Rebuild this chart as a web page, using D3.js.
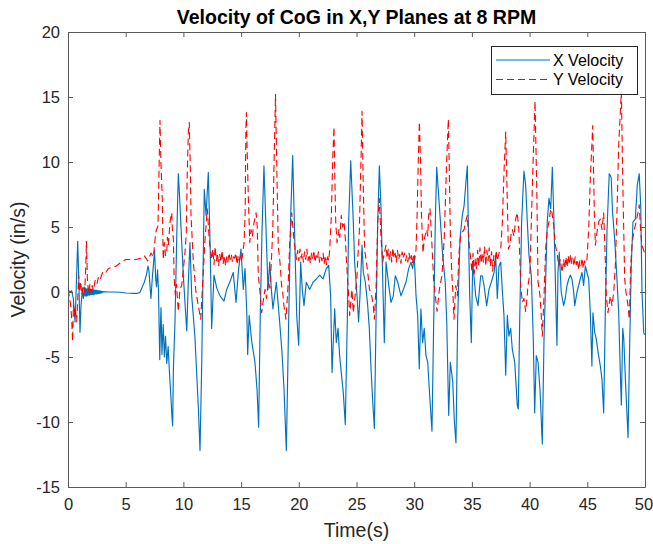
<!DOCTYPE html>
<html><head><meta charset="utf-8">
<script src="https://cdn.jsdelivr.net/npm/d3@7/dist/d3.min.js"></script>
<style>body{margin:0;background:#fff}svg{display:block}</style>
</head><body>
<svg id="chart" width="653" height="544"></svg>
<script>
const chartTitle = "Velocity of CoG in X,Y Planes at 8 RPM";
const xLabel = "Time(s)";
const yLabel = "Velocity (in/s)";
const seriesNames = ["X Velocity", "Y Velocity"];
const xTicks = [0,5,10,15,20,25,30,35,40,45,50];
const yTicks = [-15,-10,-5,0,5,10,15,20];

// [time (s), velocity (in/s)]
const xVelocity = [
[0.00,0.2],[0.17,0.0],[0.32,0.1],[0.46,-0.5],[0.61,-2.3],[0.69,-0.3],[0.84,3.9],[0.95,0.5],[1.04,-3.1],[1.13,-1.0],[1.24,0.1],[1.33,-0.5],[1.41,0.4],
[1.46,-0.3],[1.51,0.3],[1.56,-0.3],[1.61,0.25],[1.66,-0.3],[1.71,0.25],[1.76,-0.25],[1.81,0.2],[1.86,-0.25],[1.91,0.2],[1.96,-0.2],[2.01,0.2],[2.06,-0.2],[2.11,0.2],[2.16,-0.2],[2.21,0.15],[2.26,-0.2],[2.31,0.15],[2.36,-0.15],[2.41,0.15],[2.46,-0.15],[2.51,0.12],[2.56,-0.15],[2.61,0.1],[2.66,-0.12],[2.71,0.1],[2.76,-0.1],[2.81,0.08],[2.86,-0.08],[2.91,0.05],[2.96,-0.05],[3.01,0.03],
[3.5,0.0],[4.0,0.0],[4.5,-0.02],[5.0,-0.08],[5.5,-0.1],[6.0,-0.1],[6.22,-0.05],[6.4,0.3],[6.59,0.7],[6.79,1.3],[6.93,2.0],[7.02,1.6],[7.12,0.3],[7.19,-0.5],[7.3,1.0],[7.41,2.2],[7.5,3.2],[7.6,1.0],[7.67,0.4],[7.76,1.7],[7.84,0.2],
[7.95,-5.2],[8.0,-3.0],[8.06,-1.2],[8.14,-4.8],[8.25,-2.5],[8.35,-5.0],[8.45,-3.4],[8.56,-5.5],[8.68,-4.2],[8.78,-6.0],[8.9,-7.8],[9.0,-9.5],[9.07,-10.3],[9.13,-6.0],[9.27,-2.3],[9.43,4.5],[9.56,9.1],[9.66,7.5],[9.77,5.4],[9.99,1.3],[10.29,-3.0],[10.43,0.8],[10.57,3.8],[10.72,-0.3],[10.88,-2.1],[11.0,-3.5],[11.15,-6.2],[11.3,-9.0],[11.44,-12.2],[11.59,-5.4],[11.7,1.5],[11.81,7.9],[11.96,5.9],[12.16,9.2],[12.31,3.8],[12.45,-2.8],[12.65,1.3],[12.89,0.3],[13.17,-0.3],[13.52,-0.7],[13.75,0.2],[14.04,0.8],[14.32,1.5],[14.56,-0.8],[14.79,1.8],[14.99,3.3],[15.19,0.2],[15.34,1.8],
[15.5,-1.8],[15.57,-4.8],[15.7,-1.8],[15.92,-3.8],[16.2,-5.4],[16.38,-7.5],[16.52,-10.4],[16.65,-2.3],[16.81,4.6],[16.98,9.7],[17.18,4.3],[17.33,0.2],[17.48,2.3],[17.62,0.2],[17.76,-1.3],[18.05,0.75],[18.2,-0.8],[18.34,-2.3],[18.54,-4.6],[18.72,-7.5],[18.92,-12.2],[19.12,-2.3],[19.3,5.9],[19.47,10.5],[19.58,6.6],[19.7,2.3],[19.82,-1.8],[19.99,-4.1],[20.16,2.3],[20.3,0.2],[20.45,-1.05],[20.65,0.75],[20.94,0.2],[21.23,0.75],[21.52,1.0],[21.81,1.3],[22.1,1.0],[22.38,1.8],[22.59,2.05],[22.76,-0.3],
[22.88,-6.2],[23.11,-1.3],[23.25,-3.9],[23.4,-2.8],[23.54,-4.9],[23.68,-6.2],[23.86,-7.8],[24.03,-10.2],[24.2,-2.3],[24.32,5.4],[24.5,10.1],[24.7,5.9],[24.84,2.3],[25.06,-0.5],[25.18,-2.3],[25.3,-0.3],[25.48,3.6],[25.59,1.5],[25.77,0.75],[25.97,-1.05],[26.11,-2.8],[26.26,-5.9],[26.41,-8.5],[26.55,-10.5],[26.69,-2.3],[26.84,5.4],[26.98,9.7],[27.12,6.6],[27.27,1.0],[27.41,-3.9],[27.56,2.3],[27.7,1.25],[27.84,0.2],[27.99,-0.8],[28.19,-0.3],[28.36,1.25],[28.57,0.75],[28.86,-0.3],[29.06,0.2],[29.29,0.75],[29.52,1.8],[29.72,2.3],[29.87,1.8],[30.01,2.8],[30.16,-0.3],
[30.3,-1.8],[30.44,-5.9],[30.58,-1.3],[30.73,-3.9],[30.87,-2.8],[31.02,-4.9],[31.17,-5.4],[31.31,-7.5],[31.54,-10.7],[31.69,-2.3],[31.83,5.4],[31.95,9.6],[32.12,7.4],[32.32,4.8],[32.47,2.8],[32.69,0.75],[32.82,-2.3],[32.99,-9.5],[33.13,-5.4],[33.34,-6.9],[33.48,-10.0],[33.62,-11.6],[33.76,-2.3],[33.97,4.1],[34.17,5.9],[34.32,6.6],[34.46,8.2],[34.6,9.7],[34.72,3.8],[34.81,-0.3],[34.95,-3.9],[35.07,2.3],[35.18,1.25],[35.33,-0.3],[35.53,-1.05],[35.76,1.25],[35.9,1.25],[36.05,0.5],[36.28,-1.05],[36.48,0.2],[36.68,0.75],[36.92,1.5],[37.06,2.8],[37.2,-0.5],[37.35,2.0],[37.5,2.3],[37.63,0.2],[37.78,-1.8],
[37.93,-6.4],[38.07,-1.8],[38.21,-3.4],[38.36,-2.8],[38.5,-4.4],[38.71,-5.4],[38.93,-8.7],[39.02,-9.0],[39.14,-2.3],[39.31,5.4],[39.51,9.3],[39.66,8.2],[39.8,5.4],[39.95,2.8],[40.15,1.25],[40.32,-3.6],[40.44,-9.3],[40.58,-4.9],[40.73,-5.4],[40.9,-7.5],[41.1,-11.7],[41.25,-3.6],[41.53,5.4],[41.68,7.2],[41.83,6.4],[41.97,9.6],[42.09,6.1],[42.23,1.0],[42.37,-4.1],[42.46,1.5],[42.57,3.05],[42.74,0.0],[42.95,-1.05],[43.09,-0.5],[43.24,0.5],[43.39,1.0],[43.53,1.3],[43.67,1.0],[43.82,0.0],[43.91,-1.05],[44.11,0.0],[44.39,1.0],[44.54,1.5],[44.68,0.5],[44.83,2.0],[44.97,1.5],[45.12,1.0],[45.26,-1.6],
[45.4,-5.7],[45.49,-1.6],[45.64,-3.1],[45.78,-3.6],[45.93,-4.6],[46.13,-5.7],[46.27,-6.7],[46.42,-9.3],[46.56,-1.6],[46.71,4.8],[46.9,9.1],[47.07,8.8],[47.19,6.1],[47.37,4.1],[47.57,1.0],[47.72,-1.6],[47.86,-6.2],[47.95,-8.7],[48.07,-2.8],[48.16,-3.6],[48.3,-6.7],[48.53,-11.2],[48.67,-4.1],[48.81,2.0],[48.96,5.4],[49.16,5.6],[49.33,8.2],[49.5,9.1],[49.63,6.6],[49.74,0.0],[49.89,-3.1],[49.96,-3.3]
];

const yVelocity = [
[0.00,0.2],[0.1,-0.3],[0.2,-0.8],[0.3,-1.8],[0.4,-3.8],[0.47,-1.0],[0.55,-1.8],[0.62,-1.2],[0.75,-2.3],[0.85,-0.5],[0.92,1.3],[1.0,0.0],[1.1,0.8],[1.2,-0.2],[1.3,0.5],[1.45,0.0],[1.52,1.5],[1.6,3.9],[1.68,1.0],[1.78,-0.1],[1.9,0.6],[2.0,-0.1],[2.1,0.5],[2.2,0.1],[2.35,0.9],[2.5,0.6],[2.65,1.2],[2.8,1.0],[3.0,1.5],[3.2,1.4],[3.5,1.8],[3.8,1.9],[4.2,2.0],[4.6,2.3],[5.0,2.5],[5.4,2.5],[5.9,2.5],[6.3,2.6],[6.6,2.8],[6.9,2.4],[7.2,3.0],[7.4,2.7],[7.6,4.6],[7.8,5.1],[7.9,10.0],[7.97,13.2],[8.05,10.0],[8.17,7.2],[8.25,2.5],[8.35,3.8],[8.45,2.8],[8.55,3.0],[8.62,4.2],[8.7,3.6],[8.84,5.4],[8.99,6.1],[9.05,4.7],[9.13,4.1],[9.2,1.0],[9.3,-0.2],[9.4,0.6],[9.56,-1.5],[9.7,0.2],[9.85,0.5],[10.0,1.8],[10.14,3.05],[10.25,4.5],[10.33,9.0],[10.43,12.3],[10.51,13.05],[10.6,9.5],[10.66,5.9],[10.86,2.3],[11.09,0.0],[11.29,-1.05],[11.5,-2.1],[11.72,1.5],[11.87,4.0],[12.07,6.4],[12.24,4.0],[12.45,2.5],
[12.55,3.3],[12.65,2.1],[12.75,3.5],[12.85,2.4],[12.95,3.0],[13.05,2.0],[13.15,2.9],[13.25,2.3],[13.35,3.2],[13.45,2.2],[13.55,2.8],[13.65,2.0],[13.75,2.7],[13.85,2.3],[13.95,3.0],[14.05,2.5],[14.15,2.9],[14.25,2.3],[14.35,2.7],[14.45,2.6],[14.55,3.0],[14.65,2.1],[14.75,2.8],[14.85,2.4],[14.95,2.8],[15.05,2.5],[15.12,2.8],[15.26,3.8],[15.35,6.0],[15.41,12.3],[15.46,13.8],[15.52,11.0],[15.63,7.2],[15.75,3.8],[15.86,4.8],[15.98,4.3],[16.07,5.1],[16.3,6.1],[16.4,5.0],[16.49,1.3],[16.64,0.0],[16.78,-1.6],[16.9,-0.8],[17.07,0.2],[17.2,-0.5],[17.35,0.8],[17.5,0.3],[17.63,2.5],[17.75,5.0],[17.85,9.7],[17.98,15.2],[18.08,10.3],[18.22,3.5],[18.35,2.5],[18.51,0.5],[18.6,0.0],[18.71,-1.05],[18.89,-2.1],[19.0,-0.5],[19.09,0.8],[19.2,3.5],[19.38,6.1],[19.58,4.0],[19.8,2.5],
[19.9,3.2],[20.0,2.4],[20.1,3.3],[20.2,2.6],[20.3,3.0],[20.4,2.3],[20.5,3.1],[20.6,2.5],[20.7,3.3],[20.8,2.4],[20.9,2.9],[21.0,2.2],[21.1,3.0],[21.2,2.6],[21.3,3.2],[21.4,2.3],[21.5,2.8],[21.6,2.5],[21.7,3.1],[21.8,2.3],[21.9,2.7],[22.0,2.4],[22.1,3.0],[22.2,2.2],[22.3,2.8],[22.4,2.1],[22.5,2.7],[22.6,2.4],[22.68,3.3],[22.82,5.9],[22.95,10.5],[23.05,12.7],[23.12,9.0],[23.2,5.4],[23.31,3.8],[23.48,4.8],[23.55,4.2],[23.68,5.9],[23.8,5.0],[23.92,5.4],[24.03,4.1],[24.2,1.3],[24.3,0.0],[24.41,-1.8],[24.52,-0.6],[24.61,0.2],[24.72,-1.6],[24.84,-0.6],[25.02,0.9],[25.14,3.0],[25.24,4.5],[25.39,10.2],[25.48,13.9],[25.57,9.0],[25.7,3.3],[25.86,2.3],[26.0,1.3],[26.12,0.2],[26.3,-0.2],[26.45,-1.0],[26.55,-2.1],[26.7,0.5],[26.84,5.4],[26.98,7.2],[27.12,4.2],[27.27,2.3],[27.41,3.0],[27.56,3.6],
[27.65,2.6],[27.75,3.3],[27.85,2.4],[27.95,3.1],[28.05,2.3],[28.15,3.4],[28.25,2.6],[28.35,3.0],[28.45,2.3],[28.55,3.2],[28.65,2.5],[28.75,2.9],[28.85,2.2],[28.95,3.1],[29.05,2.6],[29.15,3.0],[29.25,2.4],[29.35,2.8],[29.45,2.3],[29.55,3.0],[29.65,2.4],[29.75,2.8],[29.85,2.2],[29.95,2.9],[30.05,2.5],[30.16,3.3],[30.25,5.9],[30.35,10.0],[30.45,13.1],[30.55,10.0],[30.63,6.0],[30.76,3.0],[30.88,4.1],[31.08,4.8],[31.18,4.3],[31.25,5.9],[31.37,6.4],[31.54,3.6],[31.69,0.8],[31.83,-0.3],[31.98,-1.5],[32.1,-0.5],[32.18,0.2],[32.3,0.8],[32.41,1.3],[32.61,4.3],[32.81,10.0],[32.96,13.3],[33.05,9.0],[33.13,4.6],[33.25,1.5],[33.34,0.2],[33.45,-2.1],[33.6,0.5],[33.74,-0.3],[33.88,3.0],[34.03,4.3],[34.17,4.6],[34.32,4.8],[34.46,5.4],[34.6,5.9],[34.75,3.8],[34.9,2.5],
[35.0,1.6],[35.1,3.0],[35.2,1.4],[35.3,2.6],[35.4,1.8],[35.5,3.2],[35.6,2.0],[35.7,3.4],[35.8,2.2],[35.9,3.0],[36.0,2.3],[36.1,3.5],[36.2,2.0],[36.3,3.2],[36.4,2.4],[36.5,3.4],[36.6,2.0],[36.7,3.1],[36.8,1.6],[36.9,2.8],[37.0,2.0],[37.1,3.2],[37.2,2.4],[37.35,3.0],[37.5,3.3],[37.64,5.4],[37.78,9.2],[37.93,12.3],[38.07,7.0],[38.16,3.3],[38.3,3.6],[38.4,4.5],[38.5,4.8],[38.65,4.3],[38.79,5.6],[38.93,6.1],[39.08,4.6],[39.23,0.5],[39.37,-0.8],[39.51,-0.5],[39.66,-1.5],[39.76,-0.6],[39.86,0.5],[40.03,1.5],[40.15,5.4],[40.32,10.5],[40.47,14.7],[40.62,8.0],[40.73,0.8],[40.9,-0.3],[41.01,-1.8],[41.1,-3.4],[41.25,-0.3],[41.39,3.3],[41.53,4.8],[41.68,5.4],[41.83,6.4],[41.94,6.1],[42.09,5.1],[42.23,3.6],[42.37,3.05],[42.52,2.0],[42.66,2.5],[42.81,1.5],[42.95,2.5],
[43.05,1.8],[43.15,2.7],[43.25,1.9],[43.35,2.8],[43.45,2.1],[43.55,2.9],[43.65,2.2],[43.75,2.6],[43.85,2.0],[43.95,2.7],[44.05,2.1],[44.15,2.5],[44.25,1.7],[44.35,2.4],[44.45,2.0],[44.55,2.6],[44.65,1.8],[44.75,2.4],[44.85,2.2],[44.97,2.5],[45.12,4.8],[45.26,8.7],[45.47,12.8],[45.61,6.1],[45.7,3.6],[45.84,4.6],[45.99,5.4],[46.13,5.6],[46.27,4.8],[46.42,6.1],[46.56,2.5],[46.65,-0.3],[46.79,-1.6],[46.99,-0.3],[47.14,-1.05],[47.29,0.0],[47.43,2.0],[47.57,6.1],[47.72,11.3],[47.95,15.4],[48.07,8.7],[48.24,1.0],[48.35,0.0],[48.53,-1.05],[48.64,-2.1],[48.76,2.0],[48.87,3.6],[49.02,4.6],[49.16,5.1],[49.39,6.1],[49.5,6.7],[49.63,4.6],[49.74,3.6],[49.96,3.0]
];

const colors = ["#0072BD", "#FF0000"];
const font = "'Liberation Sans', Arial, Helvetica, sans-serif";
const ink = "#262626";

const W = 653, H = 544;
const m = {left: 68, right: 8, top: 32, bottom: 57};
const pw = W - m.left - m.right, ph = H - m.top - m.bottom;

const svg = d3.select("#chart");
svg.append("rect").attr("width", W).attr("height", H).attr("fill", "#fff");

const x = d3.scaleLinear().domain([0, 50]).range([m.left, m.left + pw]);
const y = d3.scaleLinear().domain([-15, 20]).range([m.top + ph, m.top]);

svg.append("defs").append("clipPath").attr("id", "clip")
  .append("rect").attr("x", m.left).attr("y", m.top).attr("width", pw).attr("height", ph);

const line = d3.line().x(d => x(d[0])).y(d => y(d[1]));
const g = svg.append("g").attr("clip-path", "url(#clip)");
g.append("path").datum(xVelocity).attr("d", line)
  .attr("fill", "none").attr("stroke", colors[0]).attr("stroke-width", 1.15).attr("stroke-linejoin", "round");
g.append("path").datum(yVelocity).attr("d", line)
  .attr("fill", "none").attr("stroke", colors[1]).attr("stroke-width", 1.1).attr("stroke-dasharray", "7,4").attr("stroke-linejoin", "round");

const fmt = d => String(d);
function styleAxis(sel) {
  sel.selectAll(".domain").attr("stroke", "#5a5a5a").attr("stroke-width", 1);
  sel.selectAll(".tick line").attr("stroke", "#5a5a5a");
  sel.selectAll(".tick text").attr("fill", ink).style("font-family", font).style("font-size", "16.5px");
}
const xAxisG = svg.append("g").attr("transform", `translate(0,${m.top + ph})`)
  .call(d3.axisBottom(x).tickValues(xTicks).tickSizeInner(-5).tickSizeOuter(0).tickPadding(11).tickFormat(fmt))
  .call(styleAxis);
// keep the last label inside the canvas edge
xAxisG.selectAll(".tick text").filter(d => d === xTicks[xTicks.length - 1]).attr("dx", "-1.5");
svg.append("g").attr("transform", `translate(0,${m.top})`)
  .call(d3.axisTop(x).tickValues(xTicks).tickSizeInner(-5).tickSizeOuter(0).tickFormat(""))
  .call(styleAxis);
svg.append("g").attr("transform", `translate(${m.left},0)`)
  .call(d3.axisLeft(y).tickValues(yTicks).tickSizeInner(-5).tickSizeOuter(0).tickPadding(8).tickFormat(fmt))
  .call(styleAxis);
svg.append("g").attr("transform", `translate(${m.left + pw},0)`)
  .call(d3.axisRight(y).tickValues(yTicks).tickSizeInner(-5).tickSizeOuter(0).tickFormat(""))
  .call(styleAxis);

svg.append("text").attr("x", m.left + pw / 2).attr("y", 24).attr("text-anchor", "middle")
  .style("font-family", font).style("font-size", "19.5px").style("font-weight", "bold").attr("fill", "#000")
  .text(chartTitle);
svg.append("text").attr("x", m.left + pw / 2).attr("y", 537).attr("text-anchor", "middle")
  .style("font-family", font).style("font-size", "19.5px").attr("fill", ink).text(xLabel);
svg.append("text").attr("transform", `translate(25,${m.top + ph / 2}) rotate(-90)`).attr("text-anchor", "middle")
  .style("font-family", font).style("font-size", "19.5px").attr("fill", ink).text(yLabel);

// legend
const lg = svg.append("g");
lg.append("rect").attr("x", 491.5).attr("y", 46.5).attr("width", 146).attr("height", 48)
  .attr("fill", "#fff").attr("stroke", "#262626").attr("stroke-width", 1);
seriesNames.forEach((name, i) => {
  const ly = 60 + i * 19.5;
  lg.append("line").attr("x1", 496).attr("x2", 550).attr("y1", ly).attr("y2", ly)
    .attr("stroke", colors[i]).attr("stroke-width", 1.1).attr("stroke-dasharray", i === 1 ? "7,4" : null);
  lg.append("text").attr("x", 553).attr("y", ly).attr("dy", "0.35em")
    .style("font-family", font).style("font-size", "16px").attr("fill", "#000").text(name);
});
</script>
</body></html>
